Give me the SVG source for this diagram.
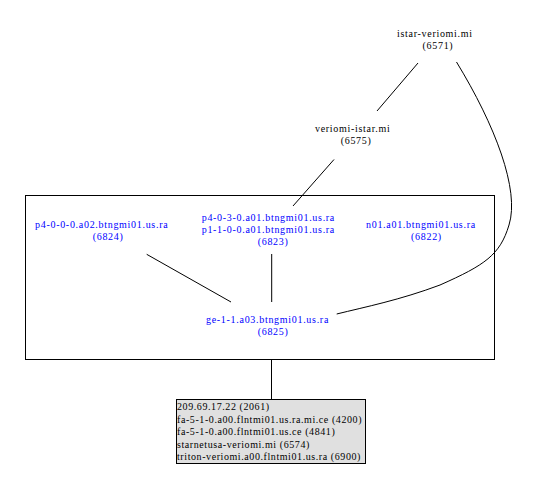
<svg xmlns="http://www.w3.org/2000/svg" width="552" height="478" viewBox="0 0 552 478">
<style>
text{font-family:"Liberation Serif","Times New Roman",serif;font-size:10px;letter-spacing:0.7px}
.b{fill:#0000ff}
.k{fill:#000000;letter-spacing:0.58px}
.e{fill:none;stroke:#000;stroke-width:1}
</style>
<rect width="552" height="478" fill="#fff"/>
<g id="cluster">
<rect x="25.5" y="195.5" width="469" height="164" fill="none" stroke="#000" stroke-width="1"/>
</g>
<g id="connectors" class="e">
<path class="e" d="M418,63 L377,111"/>
<path class="e" d="M334,159.5 L293,206"/>
<path class="e" d="M146.7,254.3 L231,302"/>
<path class="e" d="M271.7,254 L271.7,302"/>
<path class="e" d="M456.5,62 C495,125 520,190 509,225 C500,255 485,265 440,285 C400,300 365,307 336.7,314"/>
<path class="e" d="M271.5,360 L271.5,399"/>
</g>
<g id="n6571">
<text x="397" y="37.3">istar-veriomi.mi</text>
<text x="422.5" y="49">(6571)</text>
</g>
<g id="n6575">
<text x="315" y="132">veriomi-istar.mi</text>
<text x="340.7" y="143.5">(6575)</text>
</g>
<g id="n6824">
<text class="b" x="35" y="228.3">p4-0-0-0.a02.btngmi01.us.ra</text>
<text class="b" x="92.7" y="239.8">(6824)</text>
</g>
<g id="n6823">
<text class="b" x="201.7" y="220.7">p4-0-3-0.a01.btngmi01.us.ra</text>
<text class="b" x="201.7" y="233.3">p1-1-0-0.a01.btngmi01.us.ra</text>
<text class="b" x="257.7" y="245">(6823)</text>
</g>
<g id="n6822">
<text class="b" x="366" y="228.3">n01.a01.btngmi01.us.ra</text>
<text class="b" x="411" y="239.8">(6822)</text>
</g>
<g id="n6825">
<text class="b" x="206" y="323.3">ge-1-1.a03.btngmi01.us.ra</text>
<text class="b" x="257.7" y="335">(6825)</text>
</g>
<g id="nlist">
<rect x="176.5" y="399.5" width="189" height="64" fill="#e0e0e0" stroke="#000" stroke-width="1"/>
<text class="k" x="177" y="410">209.69.17.22 (2061)</text>
<text class="k" x="177" y="422.5">fa-5-1-0.a00.flntmi01.us.ra.mi.ce (4200)</text>
<text class="k" x="177" y="435">fa-5-1-0.a00.flntmi01.us.ce (4841)</text>
<text class="k" x="177" y="447.5">starnetusa-veriomi.mi (6574)</text>
<text class="k" x="177" y="460">triton-veriomi.a00.flntmi01.us.ra (6900)</text>
</g>
</svg>
